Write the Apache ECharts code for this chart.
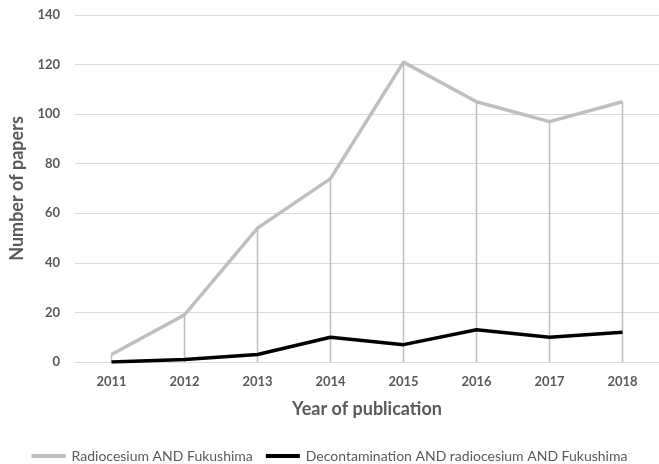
<!DOCTYPE html>
<html><head><meta charset="utf-8">
<script src="https://cdn.jsdelivr.net/npm/echarts@6/dist/echarts.min.js"></script>
<style>html,body{margin:0;padding:0;background:#fff}#c{width:659px;height:464px}</style>
</head><body><div id="c"></div>
<script>
const years = ['2011','2012','2013','2014','2015','2016','2017','2018'];
const radiocesium = [3, 19, 54, 74, 121, 105, 97, 105];
const decontamination = [0, 1, 3, 10, 7, 13, 10, 12];
const yTicks = [0, 20, 40, 60, 80, 100, 120, 140];
const dropTops = radiocesium.map((v, i) => Math.max(v, decontamination[i]));

const chart = echarts.init(document.getElementById('c'), null, {renderer: 'canvas'});
const fam = 'Lato, "Open Sans", sans-serif';
chart.setOption({
  animation: false,
  textStyle: {fontFamily: fam},
  grid: {left: 75, right: 0, top: 15, bottom: 102},
  legend: {
    top: 444, left: 'center', itemGap: 13, itemWidth: 34, itemHeight: 4, icon: 'rect',
    textStyle: {color: '#595959', fontSize: 14, fontFamily: fam, padding: [0, 0, 0, 1]},
    data: ['Radiocesium AND Fukushima', 'Decontamination AND radiocesium AND Fukushima']
  },
  xAxis: {
    type: 'category', data: years, boundaryGap: true,
    name: 'Year of publication', nameLocation: 'middle', nameGap: 38,
    nameTextStyle: {color: '#595959', fontSize: 18, fontWeight: 'bold', fontFamily: fam},
    axisLine: {lineStyle: {color: '#d9d9d9', width: 1}},
    axisTick: {show: false},
    axisLabel: {color: '#595959', fontSize: 13, fontWeight: 'bold', margin: 13, fontFamily: fam}
  },
  yAxis: {
    type: 'value', min: yTicks[0], max: yTicks[yTicks.length - 1], interval: 20,
    name: 'Number of papers', nameLocation: 'middle', nameGap: 39,
    nameTextStyle: {color: '#595959', fontSize: 18, fontWeight: 'bold', fontFamily: fam},
    axisLine: {show: false}, axisTick: {show: false},
    axisLabel: {color: '#595959', fontSize: 13, fontWeight: 'bold', margin: 15, fontFamily: fam},
    splitLine: {lineStyle: {color: '#d9d9d9', width: 1}}
  },
  series: [
    {
      name: 'drop', type: 'bar', data: dropTops, barWidth: 1.5, silent: true,
      itemStyle: {color: '#bfbfbf'}, z: 1
    },
    {
      name: 'Radiocesium AND Fukushima', type: 'line', data: radiocesium,
      symbol: 'none', lineStyle: {color: '#bfbfbf', width: 3.5}, itemStyle: {color: '#bfbfbf'}, z: 3
    },
    {
      name: 'Decontamination AND radiocesium AND Fukushima', type: 'line', data: decontamination,
      symbol: 'none', lineStyle: {color: '#000000', width: 3.5}, itemStyle: {color: '#000000'}, z: 4
    }
  ]
});
</script></body></html>
